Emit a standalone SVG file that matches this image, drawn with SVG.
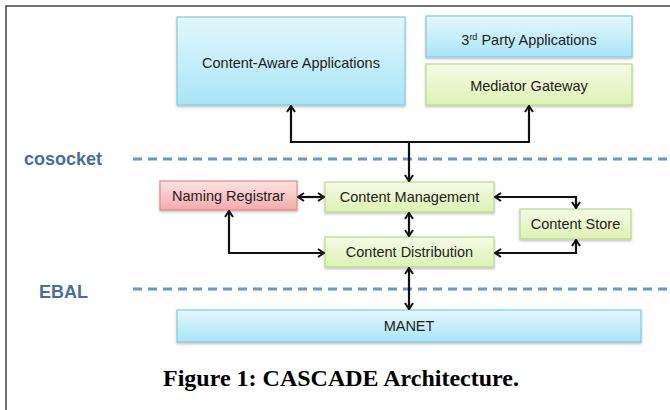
<svg xmlns="http://www.w3.org/2000/svg" width="670" height="410" viewBox="0 0 670 410">
<defs>
<linearGradient id="gBlue" x1="0" y1="0" x2="0" y2="1">
<stop offset="0" stop-color="#e4f7fd"/><stop offset="1" stop-color="#a9e5f7"/>
</linearGradient>
<linearGradient id="gGreen" x1="0" y1="0" x2="0" y2="1">
<stop offset="0" stop-color="#f6fbe6"/><stop offset="1" stop-color="#def1b4"/>
</linearGradient>
<linearGradient id="gPink" x1="0" y1="0" x2="0" y2="1">
<stop offset="0" stop-color="#fde3e3"/><stop offset="1" stop-color="#f4abab"/>
</linearGradient>
<filter id="sh" x="-5%" y="-10%" width="110%" height="130%">
<feDropShadow dx="0" dy="1.5" stdDeviation="1" flood-color="#000" flood-opacity="0.25"/>
</filter>
<marker id="ah" viewBox="0 0 10 10" refX="9" refY="5" markerWidth="10" markerHeight="10" markerUnits="userSpaceOnUse" orient="auto-start-reverse">
<path d="M3,1 L9,5 L3,9" fill="none" stroke="#111" stroke-width="2"/>
</marker>
</defs>
<style>
.blue{fill:url(#gBlue);stroke:#86c9df;stroke-width:1.2;filter:url(#sh)}
.green{fill:url(#gGreen);stroke:#b9d98c;stroke-width:1.2;filter:url(#sh)}
.pink{fill:url(#gPink);stroke:#e08a8a;stroke-width:1.2;filter:url(#sh)}
.t{font-family:"Liberation Sans",Arial,sans-serif;font-size:14.5px;fill:#222;text-anchor:middle}
.lay{font-family:"Liberation Sans",Arial,sans-serif;font-size:18px;font-weight:bold;fill:#4a6ca0}
.dash{stroke:#6b96c9;stroke-width:3;stroke-dasharray:9 6;fill:none}
.c{fill:none;stroke:#111;stroke-width:2.2;marker-start:url(#ah);marker-end:url(#ah)}
.c1{fill:none;stroke:#111;stroke-width:2.2;marker-end:url(#ah)}
.cap{font-family:"Liberation Serif","Times New Roman",serif;font-size:24px;font-weight:bold;fill:#000;text-anchor:middle}
</style>
<rect x="0" y="0" width="670" height="410" fill="#fff"/>
<rect x="6" y="6" width="720" height="440" fill="none" stroke="#444" stroke-width="1.5"/>
<g id="layers">
<path class="dash" d="M133,159 H670"/>
<path class="dash" d="M133,289 H670"/>
<text class="lay" x="24" y="165">cosocket</text>
<text class="lay" x="39" y="298">EBAL</text>
</g>
<g id="content-aware"><rect class="blue" x="177" y="17" width="228" height="88"/><text class="t" x="291" y="68">Content-Aware Applications</text></g>
<g id="third-party"><rect class="blue" x="426" y="16" width="206" height="41"/><text class="t" x="529" y="45">3<tspan font-size="9" dy="-5">rd</tspan><tspan dy="5"> Party Applications</tspan></text></g>
<g id="mediator"><rect class="green" x="426" y="64" width="206" height="41"/><text class="t" x="529" y="91">Mediator Gateway</text></g>
<g id="naming"><rect class="pink" x="160" y="181" width="137" height="29"/><text class="t" x="228.5" y="200.5">Naming Registrar</text></g>
<g id="cm"><rect class="green" x="325" y="182" width="169" height="30"/><text class="t" x="409.5" y="202">Content Management</text></g>
<g id="cs"><rect class="green" x="520" y="209" width="111" height="30"/><text class="t" x="575.5" y="229">Content Store</text></g>
<g id="cd"><rect class="green" x="325" y="237" width="169" height="30"/><text class="t" x="409.5" y="257">Content Distribution</text></g>
<g id="manet"><rect class="blue" x="177" y="310" width="464" height="32"/><text class="t" x="409" y="331">MANET</text></g>
<g id="connectors">
<path class="c" d="M291,106 V142 H529 V106"/>
<path class="c1" d="M409,142 V181"/>
<path class="c" d="M298,197 H324"/>
<path class="c" d="M409,213 V236"/>
<path class="c" d="M495,197 H576 V208"/>
<path class="c" d="M495,253 H576 V240"/>
<path class="c" d="M229,211 V253 H324"/>
<path class="c" d="M409,268 V309"/>
</g>
<text class="cap" x="341" y="386">Figure 1: CASCADE Architecture.</text>
</svg>
